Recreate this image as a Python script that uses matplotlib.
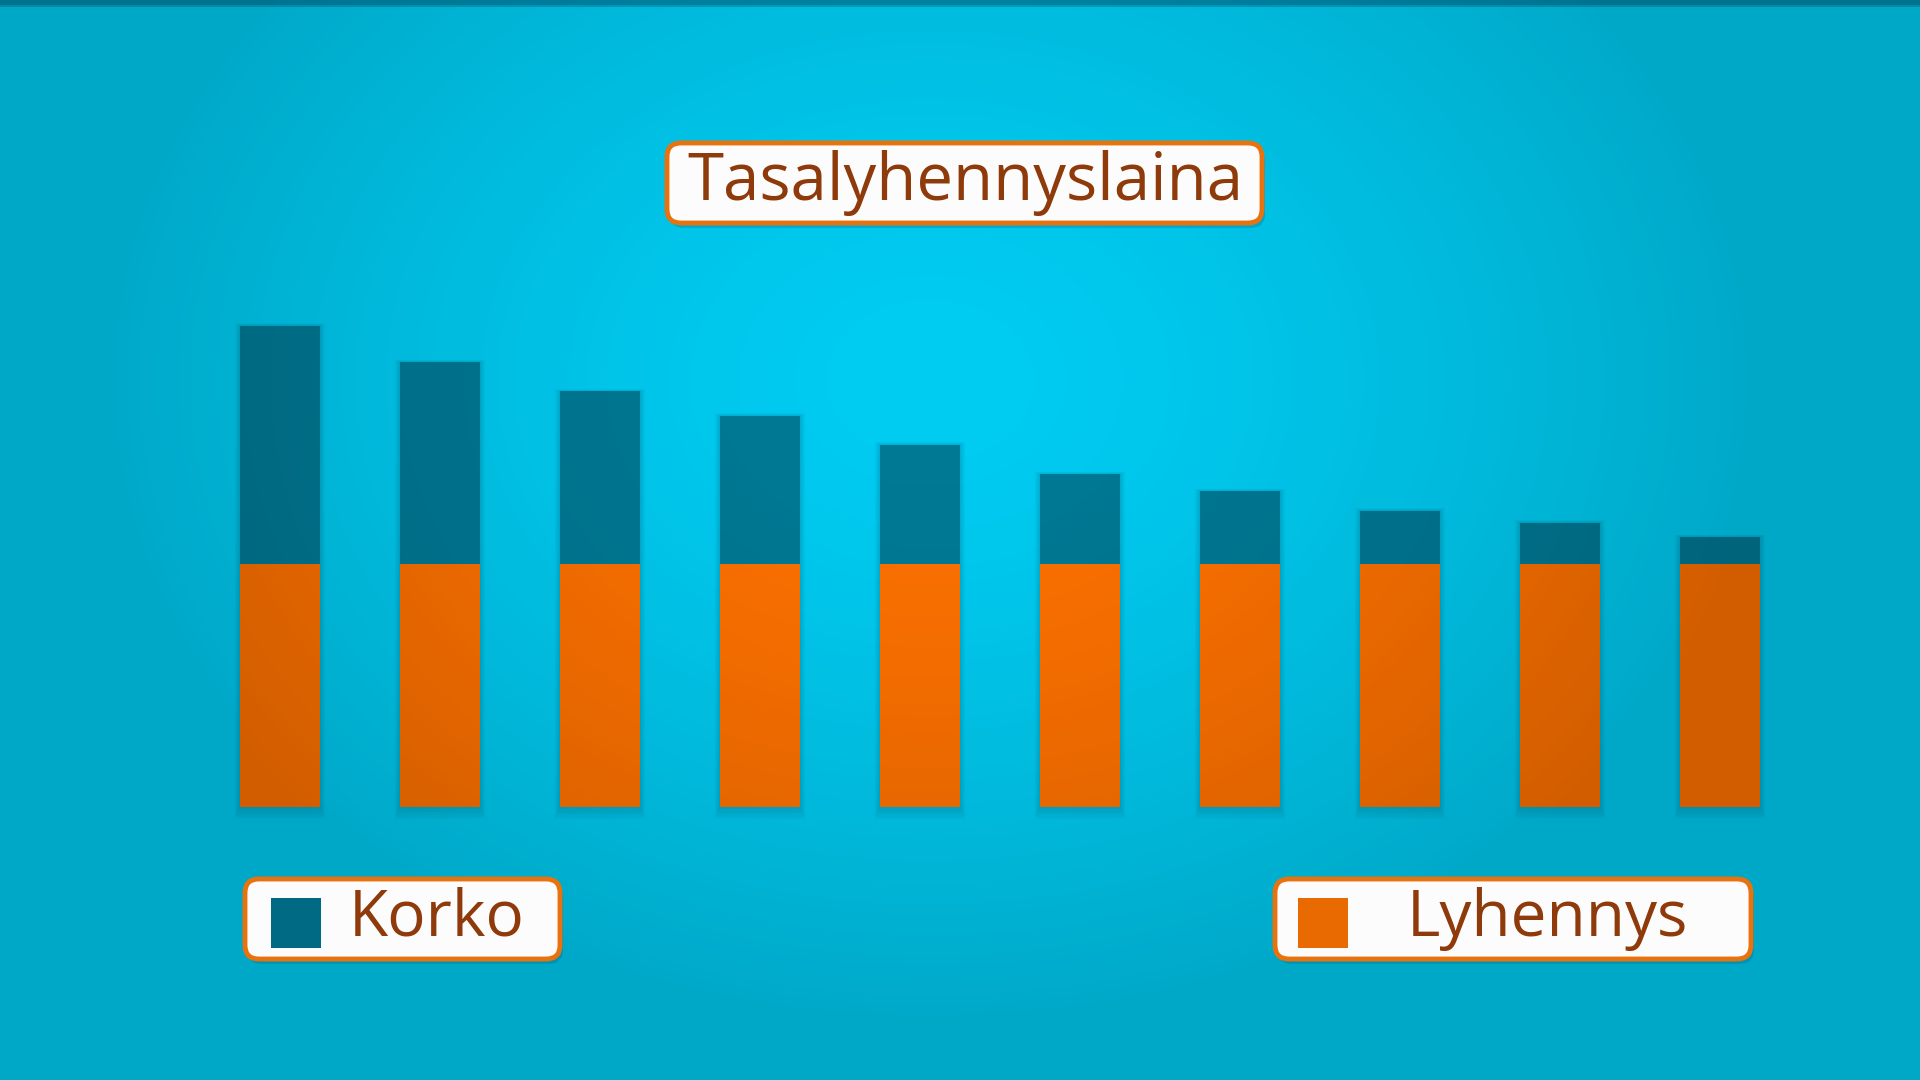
import numpy as np
import matplotlib
matplotlib.use("Agg")
import matplotlib.pyplot as plt
from matplotlib.patches import FancyBboxPatch, Rectangle

# ---- data ----
periods = [1, 2, 3, 4, 5, 6, 7, 8, 9, 10]
lyhennys = [100, 100, 100, 100, 100, 100, 100, 100, 100, 100]
korko = [98, 83, 71, 61, 49, 37, 30, 22, 17, 11]
title = "Tasalyhennyslaina"
legend_labels = ["Korko", "Lyhennys"]

W, H = 1920, 1080
fig = plt.figure(figsize=(19.2, 10.8), dpi=100)

# ---- background ----
bg = fig.add_axes([0, 0, 1, 1], zorder=0)
yy, xx = np.mgrid[0:H, 0:W]
cx, cy = 930, 380
r = np.sqrt(((xx - cx) / 900.0) ** 2 + ((yy - cy) / 700.0) ** 2)
base = np.array([0x00, 0xCC, 0xF2]) / 255.0
img = np.ones((H, W, 3)) * base[None, None, :]
img[0:5] = np.array([0x00, 0x8C, 0xAE]) / 255.0
img[5:7] = np.array([0x00, 0xA8, 0xCC]) / 255.0
bg.imshow(img, extent=[0, W, H, 0], aspect="auto", interpolation="bilinear")
bg.set_xlim(0, W); bg.set_ylim(H, 0); bg.axis("off")

# ---- bars ----
ax = fig.add_axes([0, 0, 1, 1], zorder=1)
ax.patch.set_alpha(0)
px_per_unit = 243 / 100.0
ax.set_xlim(1 - 280 / 160.0, 1 + 1640 / 160.0)
ax.set_ylim(-273 / px_per_unit, (H - 273) / px_per_unit)
ax.axis("off")

x = np.array(periods)
tot = np.array(lyhennys) + np.array(korko)
for k in range(6):
    ax.bar(x, tot + 1.2 * k, width=0.5 + 0.012 * k, bottom=-1.0 * k,
           color="#004a66", alpha=0.04, linewidth=0, zorder=1)
ax.bar(x, lyhennys, width=0.5, color="#FF7200", linewidth=0, zorder=2)
ax.bar(x, korko, bottom=lyhennys, width=0.5, color="#007A96", linewidth=0, zorder=2)

# ---- vignette overlay ----
ov = fig.add_axes([0, 0, 1, 1], zorder=2)
ov.patch.set_alpha(0)
a = np.clip(0.2 * r ** 1.5, 0, 0.18)
rgba = np.zeros((H, W, 4))
rgba[..., 3] = a
ov.imshow(rgba, extent=[0, W, H, 0], aspect="auto")
ov.set_xlim(0, W); ov.set_ylim(H, 0); ov.axis("off")

# ---- boxes ----
top = fig.add_axes([0, 0, 1, 1], zorder=3)
top.patch.set_alpha(0)
top.set_xlim(0, W); top.set_ylim(H, 0); top.axis("off")

txtcol = "#8E3A0A"
edge = "#E8730E"

def box(x0, y0, x1, y1):
    top.add_patch(FancyBboxPatch((x0 + 3, y0 + 5), x1 - x0, y1 - y0,
                                 boxstyle="round,pad=0,rounding_size=14",
                                 fc="#005070", ec="none", alpha=0.22))
    top.add_patch(FancyBboxPatch((x0, y0), x1 - x0, y1 - y0,
                                 boxstyle="round,pad=0,rounding_size=14",
                                 fc="#FCFCFC", ec=edge, lw=3.5))

box(667, 143, 1262, 223)
top.text(965, 183, title, ha="center", va="center", color=txtcol,
         fontsize=47, family="Open Sans", fontweight="medium")

box(245, 879, 560, 959)
top.add_patch(Rectangle((271, 898), 50, 50, fc="#006A84", ec="none"))
top.text(437, 919, legend_labels[0], ha="center", va="center", color=txtcol,
         fontsize=46, family="Open Sans", fontweight="medium")

box(1275, 879, 1751, 959)
top.add_patch(Rectangle((1298, 898), 50, 50, fc="#E96A00", ec="none"))
top.text(1547, 919, legend_labels[1], ha="center", va="center", color=txtcol,
         fontsize=46, family="Open Sans", fontweight="medium")

fig.savefig("out.png", dpi=100)
